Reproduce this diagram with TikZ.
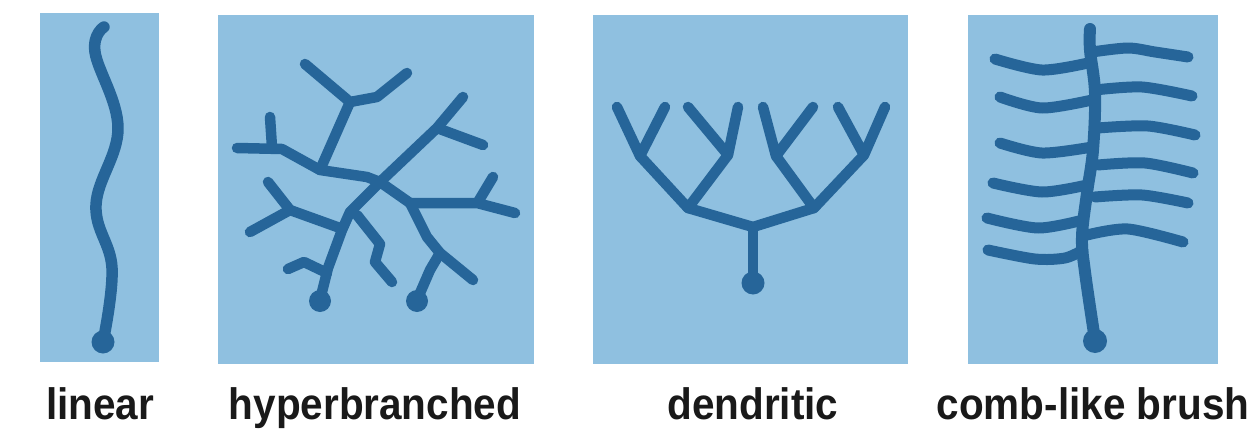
\documentclass[tikz,border=0pt]{standalone}
\usepackage{fontspec}
\setmainfont{Liberation Sans}
\newfontfamily\capfont{Liberation Sans}[FakeStretch=0.92]
\definecolor{panelblue}{RGB}{143,192,224}
\definecolor{chainblue}{RGB}{38,101,153}
\begin{document}
\begin{tikzpicture}[x=1pt,y=-1pt,
  panel/.style={fill=panelblue,draw=none},
  chain/.style={draw=chainblue,line width=10.5pt,line cap=round,line join=round},
  thickchain/.style={chain,line width=11.5pt},
  combchain/.style={chain,line width=11pt},
  endgroup/.style={fill=chainblue},
  caption/.style={anchor=base,font=\capfont\bfseries\fontsize{44}{52}\selectfont,text=black!90,inner sep=0pt}]
\useasboundingbox[fill=white] (0,0) rectangle (1256,447);

% panels
\fill[panel] (40,13) rectangle (159,362);
\fill[panel] (218,15) rectangle (534,364);
\fill[panel] (593,15) rectangle (908,364);
\fill[panel] (968,15) rectangle (1218,364);

% ---- linear chain ----
\draw[thickchain] plot[smooth,tension=0.65] coordinates
  {(104,27) (95,52) (118,128) (96,205) (112,268) (103,342)};
\fill[endgroup] (103,342) circle (11.5);

% ---- hyperbranched ----
\coordinate (hA) at (350,102);
\coordinate (hB) at (320,170);
\coordinate (hX) at (380,182);
\coordinate (hD) at (350,212);
\coordinate (hE) at (410,203);
\coordinate (hF) at (437,128);
\coordinate (hG) at (290,210);
\coordinate (hH) at (440,253);
% top Y
\draw[chain] (305,64) -- (hA) -- (377,97) -- (407,73);
\draw[chain] (hA) -- (hB);
% left arm through the centre
\draw[chain] (237,148) -- (282,149) -- (hB) -- (367,177) -- (hX) -- (hE);
\draw[chain] (270,117) -- (272,147);
% long diagonal
\draw[chain] (463,97) -- (hF) -- (hX) -- (hD) -- (342,230) -- (328,268) -- (320,300);
\draw[chain] (hF) -- (483,145);
% right part
\draw[chain] (hE) -- (477,203) -- (515,213);
\draw[chain] (478,202) -- (493,177);
\draw[chain] (hE) -- (427,237) -- (hH) -- (473,280);
\draw[chain] (hH) -- (430,270) -- (417,300);
% lower left
\draw[chain] (268,182) -- (hG) -- (250,232);
\draw[chain] (hG) -- (340,228);
\draw[chain] (288,269) -- (304,262) -- (327,273);
% middle zigzag
\draw[chain] (357,215) -- (380,244) -- (375,262) -- (392,282);
\fill[endgroup] (320,301) circle (11);
\fill[endgroup] (417,301) circle (11);

% ---- dendritic ----
\coordinate (d0) at (753,227);
\coordinate (dL) at (688,208);
\coordinate (dR) at (814,208);
\coordinate (dLL) at (640,156);
\coordinate (dLR) at (728,155);
\coordinate (dRL) at (776,156);
\coordinate (dRR) at (864,155);
\draw[chain] (753,283) -- (d0);
\draw[chain] (dL) -- (d0) -- (dR);
\draw[chain] (dLL) -- (dL) -- (dLR);
\draw[chain] (dRL) -- (dR) -- (dRR);
\draw[chain] (617,107) -- (dLL) -- (665,107);
\draw[chain] (688,107) -- (dLR) -- (738,107);
\draw[chain] (763,107) -- (dRL) -- (813,107);
\draw[chain] (838,107) -- (dRR) -- (885,107);
\fill[endgroup] (753,283) circle (11.5);

% ---- comb-like brush ----
\draw[combchain,line width=12pt] plot[smooth,tension=0.6] coordinates
  {(1090,29) (1090,50) (1095,93) (1093,150) (1087,193) (1082,237) (1085,272) (1095,340)};
% side chains on the left
\draw[combchain] plot[smooth] coordinates {(995,59) (1042,70) (1088,63)};
\draw[combchain] plot[smooth] coordinates {(1000,97) (1042,108) (1092,100)};
\draw[combchain] plot[smooth] coordinates {(1000,143) (1042,153) (1092,147)};
\draw[combchain] plot[smooth] coordinates {(993,183) (1042,192) (1087,185)};
\draw[combchain] plot[smooth] coordinates {(987,218) (1038,228) (1083,220)};
\draw[combchain] plot[smooth] coordinates {(988,250) (1035,259) (1065,258) (1083,250)};
% side chains on the right
\draw[combchain] plot[smooth] coordinates {(1092,52) (1128,48) (1155,52) (1188,57)};
\draw[combchain] plot[smooth] coordinates {(1095,90) (1142,87) (1192,96)};
\draw[combchain] plot[smooth] coordinates {(1098,128) (1148,126) (1195,135)};
\draw[combchain] plot[smooth] coordinates {(1098,165) (1145,163) (1193,173)};
\draw[combchain] plot[smooth] coordinates {(1095,197) (1142,195) (1188,203)};
\draw[combchain] plot[smooth] coordinates {(1087,235) (1128,229) (1183,242)};
\fill[endgroup] (1095,341) circle (12);

% captions
\node[caption] (capLinear) at (100,419) {linear};
\node[caption] (capHyper) at (375,419) {hyperbranched};
\node[caption] (capDend) at (753,419) {dendritic};
\node[caption] (capComb) at (1093,419) {comb-like brush};
\end{tikzpicture}
\end{document}
